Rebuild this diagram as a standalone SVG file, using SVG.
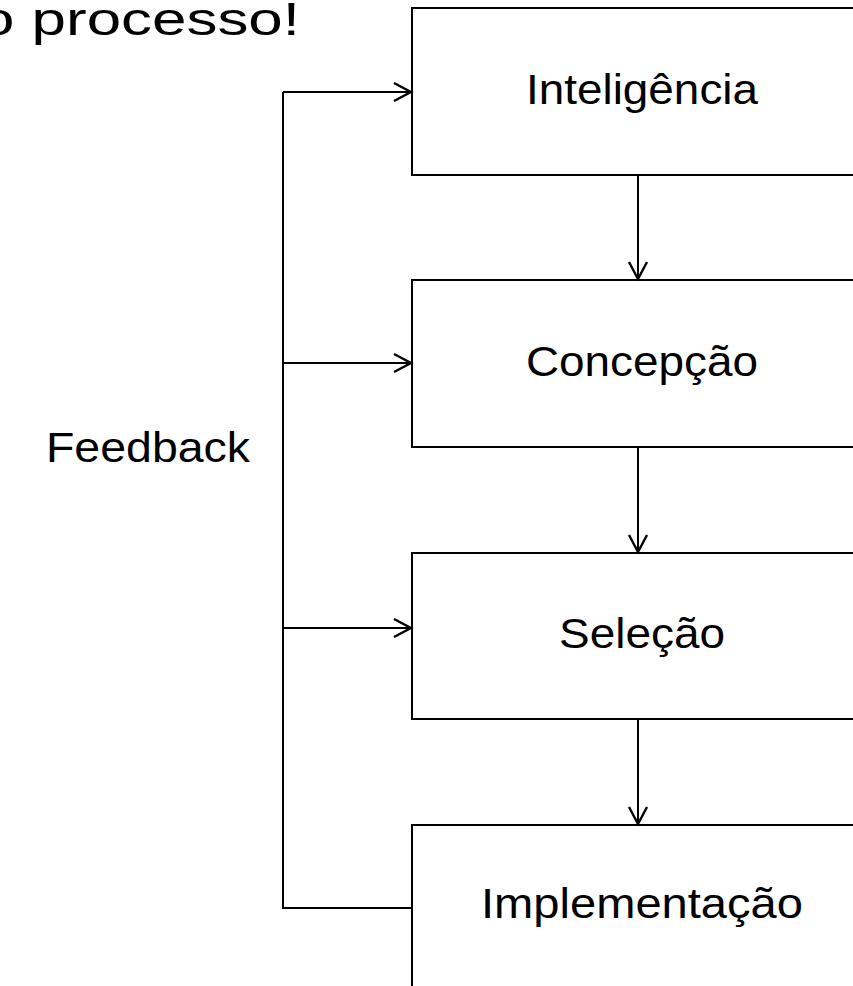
<svg xmlns="http://www.w3.org/2000/svg" width="853" height="986" viewBox="0 0 853 986">
<style>
.box{fill:#fff;stroke:#000;stroke-width:2}
.lbl{font-family:"Liberation Sans",Arial,sans-serif;font-size:42px;fill:#000}
.con{fill:none;stroke:#000;stroke-width:2}
</style>
<defs>
<marker id="ah" markerUnits="userSpaceOnUse" markerWidth="24" markerHeight="24" refX="20" refY="10" orient="auto" viewBox="0 0 24 20">
<path d="M3,1 L20,10 L3,19" fill="none" stroke="#000" stroke-width="2.4"/>
</marker>
</defs>
<rect width="853" height="986" fill="#fff"/>
<text class="lbl" x="-20" y="35" style="font-size:46px" textLength="320" lengthAdjust="spacingAndGlyphs">o processo!</text>
<g id="n1"><rect class="box" x="412" y="8" width="500" height="167"/><text class="lbl" x="642" y="104" text-anchor="middle" textLength="232" lengthAdjust="spacingAndGlyphs">Inteligência</text></g>
<g id="n2"><rect class="box" x="412" y="280" width="500" height="167"/><text class="lbl" x="642" y="376" text-anchor="middle" textLength="232" lengthAdjust="spacingAndGlyphs">Concepção</text></g>
<g id="n3"><rect class="box" x="412" y="553" width="500" height="166"/><text class="lbl" x="642" y="648" text-anchor="middle" textLength="166" lengthAdjust="spacingAndGlyphs">Seleção</text></g>
<g id="n4"><rect class="box" x="412" y="825" width="500" height="167"/><text class="lbl" x="642" y="918" text-anchor="middle" textLength="322" lengthAdjust="spacingAndGlyphs">Implementação</text></g>
<g id="fb"><text class="lbl" x="250" y="462" text-anchor="end" textLength="204" lengthAdjust="spacingAndGlyphs">Feedback</text></g>
<g id="connectors">
<path class="con" d="M638,175 V279" marker-end="url(#ah)"/>
<path class="con" d="M638,447 V552" marker-end="url(#ah)"/>
<path class="con" d="M638,719 V824" marker-end="url(#ah)"/>
<path class="con" d="M412,908 H283 V92"/>
<path class="con" d="M283,92 H411" marker-end="url(#ah)"/>
<path class="con" d="M283,363 H411" marker-end="url(#ah)"/>
<path class="con" d="M283,628 H411" marker-end="url(#ah)"/>
</g>
</svg>
